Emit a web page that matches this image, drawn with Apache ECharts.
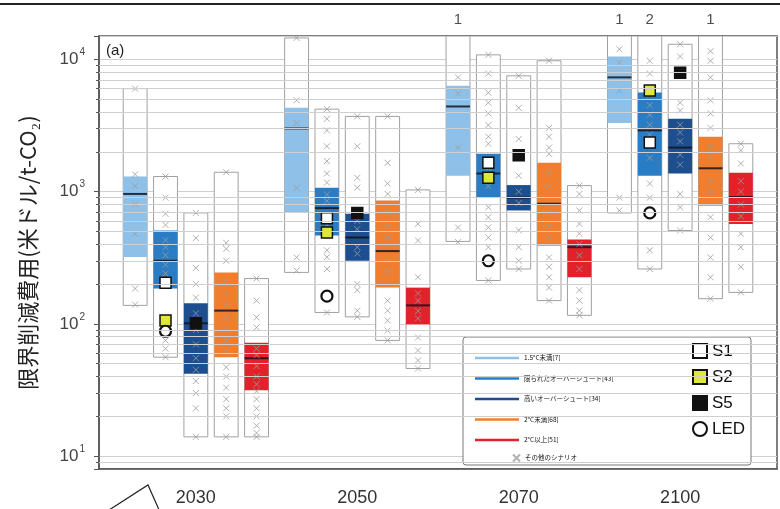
<!DOCTYPE html>
<html>
<head>
<meta charset="utf-8">
<script src="https://cdn.jsdelivr.net/npm/echarts@6/dist/echarts.min.js"></script>
<style>
html, body { margin: 0; padding: 0; background: #fff; }
#main { width: 780px; height: 509px; }
</style>
</head>
<body>
<div id="main"></div>
<script>
var dom = document.getElementById('main')
var chart = echarts.init(dom)

var years = ['2030', '2050', '2070', '2100']
var scenarioNames = ['1.5°C未満[7]', '限られたオーバーシュート[43]', '高いオーバーシュート[34]', '2°C未満[68]', '2°C以上[51]']
var scenarioColors = ['#8fc0e8', '#2a7dc4', '#1d4e8f', '#f07e2e', '#e3212b']

// box stats per year: [min, q1, median, q3, max]
var below15 = [[138, 320, 960, 1300, 6000], [245, 690, 3000, 4300, 14500], [420, 1320, 4400, 6300, 15000], [690, 3300, 7300, 10500, 15000]]
var lowOS = [[56, 185, 300, 508, 1300], [122, 465, 750, 1070, 4200], [213, 900, 1370, 1930, 10800], [260, 1320, 2900, 5600, 15000]]
var highOS = [[14, 42, 101, 143, 690], [113, 300, 450, 680, 3700], [260, 720, 900, 1120, 7500], [508, 1370, 2150, 3550, 13000]]
var lower2 = [[14, 56, 126, 245, 1400], [75, 188, 355, 855, 3700], [150, 390, 810, 1650, 9750], [155, 780, 1500, 2600, 15000]]
var higher2 = [[14, 31.5, 55, 72, 220], [46, 99, 138, 188, 1030], [116, 225, 380, 435, 1110], [173, 570, 910, 1390, 2300]]

// individual scenarios (x markers) per year
var below15Pts = [[6000, 1350, 1100, 800, 480, 185, 140], [14500, 4900, 3300, 1070, 318, 253], [7300, 5500, 2150, 535, 415], [11900, 9400, 5800, 900, 720]]
var lowOSPts = [[1300, 900, 680, 560, 430, 380, 330, 280, 240, 90, 75, 65, 56],
    [4200, 3550, 2900, 2200, 1700, 1370, 1170, 950, 850, 560, 360, 320, 260, 122],
    [10800, 7800, 5600, 4700, 3900, 3180, 2600, 2300, 1500, 1100, 760, 640, 535, 450, 380, 213],
    [9750, 7800, 4500, 3800, 3200, 2700, 1800, 1150, 900, 360, 260]]
var highOSPts = [[690, 445, 265, 200, 158, 120, 90, 70, 55, 45, 37, 30, 23, 14],
    [3700, 2200, 1270, 1070, 600, 520, 380, 340, 200, 180, 126, 113],
    [7500, 4300, 2500, 1320, 1000, 820, 510, 380, 300, 260],
    [13000, 10500, 4700, 4100, 3200, 2800, 2400, 1900, 1600, 960, 760, 508]]
var lower2Pts = [[1400, 410, 370, 300, 210, 170, 140, 110, 90, 75, 62, 47, 40, 33, 27, 23, 20, 14],
    [3700, 1650, 1150, 960, 700, 550, 450, 300, 250, 150, 126, 106, 89, 75],
    [9750, 3030, 2600, 2150, 1930, 1400, 1100, 700, 550, 450, 318, 270, 225, 188, 150],
    [11500, 9750, 7300, 4900, 3900, 3030, 2200, 1800, 1200, 1000, 640, 450, 318, 225, 155]]
var higher2Pts = [[220, 150, 112, 94, 65, 58, 48, 40, 35, 31, 27, 23, 20, 17, 15, 14],
    [1030, 570, 427, 225, 170, 150, 125, 110, 79, 63, 53, 46],
    [1110, 960, 720, 570, 480, 400, 330, 260, 180, 150, 126, 116],
    [2300, 2050, 1630, 1200, 1000, 800, 650, 480, 380, 270, 173]]

// illustrative pathways (all in box 1 except S5 in box 2)
var s1Values = [205, 630, 1650, 2350]
var s2Values = [106, 490, 1270, 5800]
var s5Values = [101, 690, 1880, 7900]
var ledValues = [88, 162, 300, 690]

// scenarios above the axis top
var countYear = [2, 3, 3, 3]
var countBox = [0, 0, 1, 3]
var countN = [1, 1, 2, 1]

var yMin = 8
var yMax = 15000
var boxStep = 0.188
var boxWidth = 0.148

var boxStats = [below15, lowOS, highOS, lower2, higher2]
var boxPts = [below15Pts, lowOSPts, highOSPts, lower2Pts, higher2Pts]

function xPos(g, c) {
    return g + (c - 2) * boxStep
}

function boxRenderer(color) {
    return function (params, api) {
        var x = api.value(0)
        var lo = api.coord([x, api.value(1)])
        var q1 = api.coord([x, api.value(2)])
        var md = api.coord([x, api.value(3)])
        var q3 = api.coord([x, api.value(4)])
        var hi = api.coord([x, api.value(5)])
        var left = api.coord([x - boxWidth / 2, api.value(3)])[0]
        var right = api.coord([x + boxWidth / 2, api.value(3)])[0]
        var w = right - left
        return {
            type: 'group',
            children: [
                { type: 'rect', shape: { x: left, y: hi[1], width: w, height: lo[1] - hi[1] },
                  style: { fill: '#fff', stroke: '#a0a0a0', lineWidth: 1 } },
                { type: 'rect', shape: { x: left, y: q3[1], width: w, height: q1[1] - q3[1] },
                  style: { fill: color } },
                { type: 'line', shape: { x1: left, y1: md[1], x2: right, y2: md[1] },
                  style: { stroke: 'rgba(20,20,30,0.85)', lineWidth: 2 } }
            ]
        }
    }
}

var minorGrid = []
for (var d = 0; d < 4; d++) {
    for (var k = 2; k <= 9; k++) {
        var v = k * Math.pow(10, d)
        if (v > yMin && v < yMax) minorGrid.push(v)
    }
}

var series = [{
    type: 'line',
    name: 'grid',
    data: [],
    z: 1,
    silent: true,
    markLine: {
        silent: true,
        symbol: 'none',
        label: { show: false },
        lineStyle: { color: '#cfcfcf', type: 'solid', width: 1 },
        data: minorGrid.map(function (v) { return { yAxis: v } })
    }
}]

boxStats.forEach(function (stats, c) {
    series.push({
        type: 'custom',
        name: scenarioNames[c],
        z: 2,
        clip: true,
        itemStyle: { color: scenarioColors[c] },
        encode: { x: 0, y: [1, 2, 3, 4, 5] },
        renderItem: boxRenderer(scenarioColors[c]),
        data: stats.map(function (s, g) { return [xPos(g, c)].concat(s) })
    })
})

var otherData = []
boxPts.forEach(function (perYear, c) {
    perYear.forEach(function (vals, g) {
        vals.forEach(function (v) { otherData.push([xPos(g, c), v]) })
    })
})

var xIcon = 'path://M1,1L9,9M9,1L1,9'
series.push({
    type: 'scatter',
    name: 'その他のシナリオ',
    z: 3,
    symbol: xIcon,
    symbolSize: 6,
    itemStyle: { color: 'rgba(0,0,0,0)', borderColor: '#9c9c9c', borderWidth: 1 },
    data: otherData
})

function markerSeries(name, values, c, symbol, fill, bw) {
    return {
        type: 'scatter',
        name: name,
        z: 4,
        symbol: symbol,
        symbolSize: 11,
        itemStyle: { color: fill, borderColor: '#111', borderWidth: bw, opacity: 1 },
        data: values.map(function (v, g) { return [xPos(g, c), v] })
    }
}
series.push(markerSeries('S1', s1Values, 1, 'rect', '#fff', 1.5))
series.push(markerSeries('S2', s2Values, 1, 'rect', '#dfe63c', 1.5))
series.push(markerSeries('S5', s5Values, 2, 'rect', '#111', 1.5))
series.push(markerSeries('LED', ledValues, 1, 'circle', '#fff', 2.2))

series.push({
    type: 'scatter',
    name: 'count',
    z: 5,
    clip: false,
    symbolSize: 1,
    itemStyle: { color: 'rgba(0,0,0,0)' },
    label: {
        show: true, position: 'top', distance: 8,
        formatter: function (p) { return p.value[2] },
        fontSize: 15, color: '#222', fontFamily: 'Liberation Sans'
    },
    data: countYear.map(function (g, i) { return [xPos(g, countBox[i]), yMax, countN[i]] })
})

var lineIcon = 'path://M0,0L44,0L44,2.4L0,2.4Z'

var options = {
    animation: false,
    backgroundColor: '#fff',
    title: {
        text: '(a)',
        left: 101,
        top: 38,
        textStyle: { fontSize: 15, fontWeight: 'normal', color: '#222', fontFamily: 'Liberation Sans' }
    },
    grid: {
        left: 99, right: -1, top: 36, bottom: 40,
        show: true, borderColor: '#555', borderWidth: 1.5, backgroundColor: '#fff'
    },
    legend: [{
        orient: 'vertical',
        left: 470,
        top: 348,
        itemWidth: 44,
        itemHeight: 9,
        itemGap: 10.5,
        selectedMode: false,
        textStyle: { fontSize: 6.5, lineHeight: 10, color: '#111', fontFamily: 'Noto Sans CJK JP' },
        data: scenarioNames.map(function (n) { return { name: n, icon: lineIcon } })
    }, {
        orient: 'vertical',
        left: 507,
        top: 448,
        itemWidth: 7,
        itemHeight: 7,
        selectedMode: false,
        textStyle: { fontSize: 6.5, lineHeight: 10, color: '#111', fontFamily: 'Noto Sans CJK JP' },
        data: [{ name: 'その他のシナリオ', icon: xIcon }]
    }, {
        orient: 'vertical',
        left: 687,
        top: 337,
        itemWidth: 14,
        itemHeight: 14,
        itemGap: 8,
        selectedMode: false,
        textStyle: { fontSize: 17, lineHeight: 18, color: '#111', fontFamily: 'Liberation Sans' },
        data: ['S1', 'S2', 'S5', 'LED']
    }],
    graphic: [
        { type: 'line', shape: { x1: 0, y1: 4, x2: 780, y2: 4 }, style: { stroke: '#222', lineWidth: 2 } },
        { type: 'polyline', shape: { points: [[106, 512], [148, 485], [160, 512]] },
          style: { stroke: '#222', lineWidth: 1.2, fill: null } },
        { type: 'rect', z: 3, shape: { x: 463, y: 337, width: 288, height: 128, r: 3 },
          style: { fill: '#fff', stroke: '#777', lineWidth: 1 } }
    ],
    xAxis: {
        type: 'value',
        min: -0.6,
        max: 3.6,
        interval: 0.2,
        splitLine: { show: false },
        axisTick: { show: false },
        axisLine: { lineStyle: { color: '#555', width: 1.5 } },
        axisLabel: {
            margin: 20,
            fontSize: 18,
            color: '#333',
            fontFamily: 'Liberation Sans',
            formatter: function (v) {
                var i = Math.round(v)
                return Math.abs(v - i) < 1e-6 && years[i] ? years[i] : ''
            }
        }
    },
    yAxis: {
        type: 'log',
        logBase: 10,
        min: yMin,
        max: yMax,
        name: '限界削減費用(米ドル/t-CO₂)',
        nameLocation: 'middle',
        nameRotate: 90,
        nameGap: 60,
        nameTextStyle: { fontSize: 22, color: '#222', fontFamily: 'Noto Sans CJK JP' },
        axisLine: { show: true, onZero: false, lineStyle: { color: '#555', width: 1.5 } },
        axisTick: { show: true, length: 5, lineStyle: { color: '#555' } },
        minorTick: { show: true, splitNumber: 9, length: 3, lineStyle: { color: '#555' } },
        splitLine: { show: true, lineStyle: { color: '#cfcfcf', width: 1 } },
        axisLabel: {
            margin: 14,
            showMinLabel: false,
            showMaxLabel: false,
            formatter: function (v) {
                var l = Math.log(v) / Math.LN10
                var e = Math.round(l)
                if (Math.abs(l - e) > 1e-6) return ''
                return '{b|10}{s|' + e + '}'
            },
            rich: {
                b: { fontSize: 17, color: '#444', fontFamily: 'Liberation Sans' },
                s: { fontSize: 10, color: '#444', fontFamily: 'Liberation Sans', padding: [0, 0, 14, 1] }
            }
        }
    },
    series: series
}

chart.setOption(options)
</script>
</body>
</html>
